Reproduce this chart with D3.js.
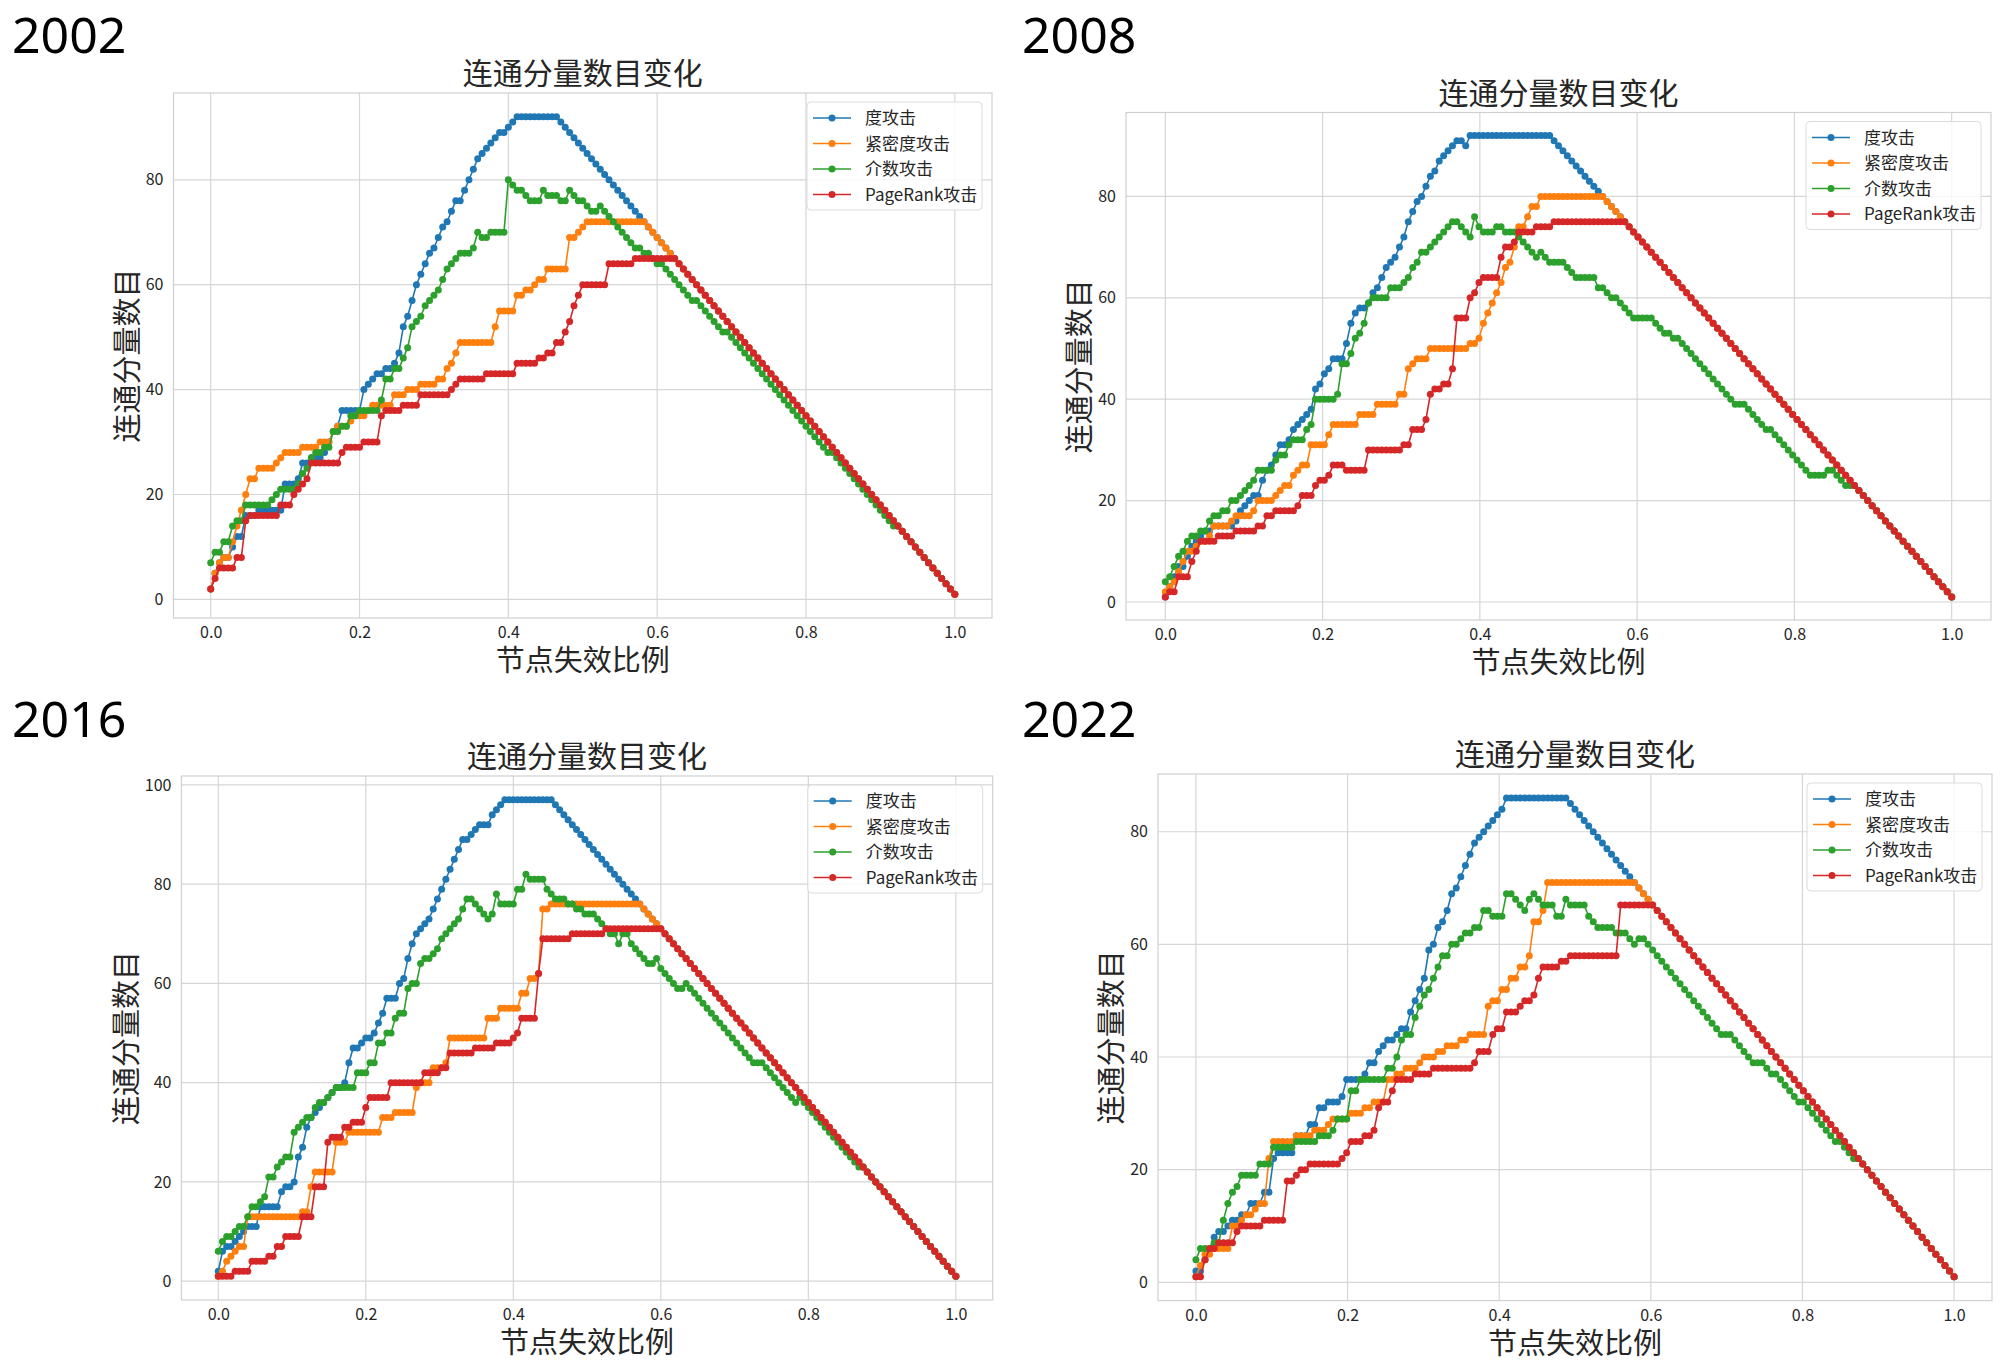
<!DOCTYPE html>
<html>
<head>
<meta charset="utf-8">
<script src="https://cdn.jsdelivr.net/npm/d3@7"></script>
<style>
  body { margin: 0; background: #fff; }
</style>
</head>
<body>
<svg id="chart" width="2000" height="1365"></svg>
<script>
// Legend names and colours
const seriesNames = ["度攻击", "紧密度攻击", "介数攻击", "PageRank攻击"];
const seriesColors = ["#1f77b4", "#ff7f0e", "#2ca02c", "#d62728"];
const years = ["2002", "2008", "2016", "2022"];
const xTicks = [0, 0.2, 0.4, 0.6, 0.8, 1.0];
const yTicks2002 = [0, 20, 40, 60, 80];
const yTicks2008 = [0, 20, 40, 60, 80];
const yTicks2016 = [0, 20, 40, 60, 80, 100];
const yTicks2022 = [0, 20, 40, 60, 80];

// 2002: components after removing i of 170 nodes
const deg2002 = [2,5,7,8,8,10,12,12,16,16,16,17,17,17,17,17,17,22,22,22,23,26,26,27,27,27,28,30,32,33,
  36,36,36,36,36,40,41,42,43,43,44,44,45,47,52,54,57,60,62,64,66,67,69,71,72,74,76,76,78,80,
  82,84,85,86,87,88,89,89,90,91,92,92,92,92,92,92,92,92,92,92,91,90,89,88,87,86,85,84,83,82,
  81,80,79,78,77,76,75,74,73,72,71,70,69,68,67,66,65,64,63,62,61,60,59,58,57,56,55,54,53,52,
  51,50,49,48,47,46,45,44,43,42,41,40,39,38,37,36,35,34,33,32,31,30,29,28,27,26,25,24,23,22,
  21,20,19,18,17,16,15,14,13,12,11,10,9,8,7,6,5,4,3,2,1];
const clo2002 = [2,5,7,8,8,11,14,17,20,23,23,25,25,25,25,26,27,28,28,28,28,29,29,29,29,30,30,30,32,33,
  33,33,34,35,35,35,36,37,37,37,37,37,39,39,39,40,40,40,41,41,41,41,42,42,44,45,47,49,49,49,
  49,49,49,49,49,52,55,55,55,55,58,58,59,59,60,61,61,63,63,63,63,63,69,69,70,71,72,72,72,72,
  72,72,72,72,72,72,72,72,72,72,71,70,69,68,67,66,65,64,63,62,61,60,59,58,57,56,55,54,53,52,
  51,50,49,48,47,46,45,44,43,42,41,40,39,38,37,36,35,34,33,32,31,30,29,28,27,26,25,24,23,22,
  21,20,19,18,17,16,15,14,13,12,11,10,9,8,7,6,5,4,3,2,1];
const bet2002 = [7,9,9,11,11,14,15,15,18,18,18,18,18,18,19,20,21,21,21,21,22,24,25,27,28,28,29,29,32,32,
  33,33,35,35,36,36,36,36,36,38,42,42,44,44,46,48,52,53,54,56,57,58,59,61,63,64,65,66,66,66,
  67,70,69,69,70,70,70,70,80,79,78,78,77,76,76,76,78,77,77,77,76,76,78,77,76,76,75,74,74,75,
  74,73,72,71,70,69,68,67,67,66,66,65,64,64,63,62,61,60,59,58,57,57,56,55,54,53,52,51,51,50,
  49,48,47,46,45,44,43,42,41,40,39,38,37,36,35,34,33,32,31,30,29,28,28,27,26,25,24,23,22,21,
  20,19,18,17,16,15,14,14,13,12,11,10,9,8,7,6,5,4,3,2,1];
const pr2002 = [2,4,6,6,6,6,8,8,15,16,16,16,16,16,16,16,18,18,18,20,21,22,23,26,26,26,26,26,26,26,
  28,29,29,29,29,30,30,30,30,35,36,36,36,36,37,37,37,37,39,39,39,39,39,39,39,40,41,42,42,42,
  42,42,42,43,43,43,43,43,43,43,45,45,45,45,45,46,46,47,47,49,49,51,53,56,58,60,60,60,60,60,
  60,64,64,64,64,64,64,65,65,65,65,65,65,65,65,65,65,64,63,62,61,60,59,58,57,56,55,54,53,52,
  51,50,49,48,47,46,45,44,43,42,41,40,39,38,37,36,35,34,33,32,31,30,29,28,27,26,25,24,23,22,
  21,20,19,18,17,16,15,14,13,12,11,10,9,8,7,6,5,4,3,2,1];

// 2008: 178 nodes
const deg2008 = [1,3,5,7,7,9,11,12,13,14,14,15,15,15,15,15,16,18,19,20,21,21,24,26,27,29,31,31,32,34,
  35,36,37,38,42,43,45,46,48,48,48,51,55,57,58,58,59,61,62,64,66,67,68,70,72,75,77,79,80,82,
  84,85,87,88,89,90,91,91,90,92,92,92,92,92,92,92,92,92,92,92,92,92,92,92,92,92,92,92,91,90,
  89,88,87,86,85,84,83,82,81,80,79,78,77,76,75,74,73,72,71,70,69,68,67,66,65,64,63,62,61,60,
  59,58,57,56,55,54,53,52,51,50,49,48,47,46,45,44,43,42,41,40,39,38,37,36,35,34,33,32,31,30,
  29,28,27,26,25,24,23,22,21,20,19,18,17,16,15,14,13,12,11,10,9,8,7,6,5,4,3,2,1];
const clo2008 = [2,3,4,6,8,10,10,11,12,12,13,15,15,15,15,16,17,17,17,17,18,20,20,20,20,21,22,23,23,25,
  26,27,27,31,31,31,31,33,35,35,35,35,35,35,37,37,37,37,39,39,39,39,39,41,41,46,47,48,48,48,
  50,50,50,50,50,50,50,50,50,51,51,52,55,57,59,61,63,66,67,70,74,74,76,78,78,80,80,80,80,80,
  80,80,80,80,80,80,80,80,80,80,79,78,77,76,75,74,73,72,71,70,69,68,67,66,65,64,63,62,61,60,
  59,58,57,56,55,54,53,52,51,50,49,48,47,46,45,44,43,42,41,40,39,38,37,36,35,34,33,32,31,30,
  29,28,27,26,25,24,23,22,21,20,19,18,17,16,15,14,13,12,11,10,9,8,7,6,5,4,3,2,1];
const bet2008 = [4,5,7,9,10,12,13,13,14,14,16,17,17,18,18,20,20,21,22,23,24,26,26,26,26,28,29,29,31,32,
  32,32,34,35,40,40,40,40,40,41,47,47,49,52,53,55,59,60,60,60,60,62,62,62,63,64,66,67,69,69,
  70,71,72,73,74,75,75,74,73,72,76,74,73,73,73,74,74,73,73,73,72,71,70,69,68,69,68,67,67,67,
  67,66,65,64,64,64,64,64,62,62,61,60,60,59,58,57,56,56,56,56,56,55,54,53,53,52,52,51,50,49,
  48,47,46,45,44,43,42,41,40,39,39,39,38,37,36,35,34,34,33,32,31,30,29,28,27,26,25,25,25,25,
  26,26,25,24,23,23,23,22,21,20,19,18,17,16,15,14,13,12,11,10,9,8,7,6,5,4,3,2,1];
const pr2008 = [1,2,2,5,5,5,8,10,12,12,12,12,13,13,13,13,14,14,14,14,14,15,15,17,17,18,18,18,18,18,
  19,21,21,21,23,24,24,25,27,27,27,26,26,26,26,26,30,30,30,30,30,30,30,30,31,31,34,34,34,36,
  41,42,42,43,43,46,56,56,56,60,61,63,64,64,64,64,68,70,70,71,73,73,73,73,74,74,74,74,75,75,
  75,75,75,75,75,75,75,75,75,75,75,75,75,75,75,74,73,72,71,70,69,68,67,66,65,64,63,62,61,60,
  59,58,57,56,55,54,53,52,51,50,49,48,47,46,45,44,43,42,41,40,39,38,37,36,35,34,33,32,31,30,
  29,28,27,26,25,24,23,22,21,20,19,18,17,16,15,14,13,12,11,10,9,8,7,6,5,4,3,2,1];

// 2016: 175 nodes
const deg2016 = [2,6,7,7,8,9,10,11,11,11,15,15,15,15,15,18,19,19,20,25,27,31,33,34,35,36,37,38,39,39,
  40,44,47,47,48,49,49,50,52,54,57,57,57,60,61,65,68,70,71,72,73,75,77,79,81,83,85,87,89,89,
  90,91,92,92,92,94,95,96,97,97,97,97,97,97,97,97,97,97,97,97,96,95,94,93,92,91,90,89,88,87,
  86,85,84,83,82,81,80,79,78,77,76,75,74,73,72,71,70,69,68,67,66,65,64,63,62,61,60,59,58,57,
  56,55,54,53,52,51,50,49,48,47,46,45,44,43,42,41,40,39,38,37,36,35,34,33,32,31,30,29,28,27,
  26,25,24,23,22,21,20,19,18,17,16,15,14,13,12,11,10,9,8,7,6,5,4,3,2,1];
const clo2016 = [1,2,4,5,6,7,7,13,13,13,13,13,13,13,13,13,13,13,13,13,14,14,19,22,22,22,22,22,28,28,
  28,30,30,30,30,30,30,30,30,33,33,33,34,34,34,34,34,39,40,40,40,43,43,43,44,49,49,49,49,49,
  49,49,49,49,53,53,53,55,55,55,55,55,58,58,61,61,62,75,75,76,76,76,76,76,76,76,76,76,76,76,
  76,76,76,76,76,76,76,76,76,76,76,75,74,73,72,71,70,69,68,67,66,65,64,63,62,61,60,59,58,57,
  56,55,54,53,52,51,50,49,48,47,46,45,44,43,42,41,40,39,38,37,36,35,34,33,32,31,30,29,28,27,
  26,25,24,23,22,21,20,19,18,17,16,15,14,13,12,11,10,9,8,7,6,5,4,3,2,1];
const bet2016 = [6,8,9,9,10,11,11,13,15,15,16,17,21,21,23,24,25,25,30,31,32,33,33,35,36,36,37,38,39,39,
  39,39,39,42,42,42,44,44,48,48,50,50,53,54,54,59,60,60,64,65,65,66,67,69,70,71,72,73,75,77,
  77,76,75,74,73,74,78,76,76,76,76,79,79,82,81,81,81,81,79,78,77,77,77,76,76,75,75,74,74,74,
  73,72,71,70,70,68,70,70,68,67,66,65,64,64,65,63,62,61,60,59,59,60,59,58,57,56,55,54,53,52,
  51,50,49,48,47,46,45,44,44,44,43,42,41,40,39,38,37,36,37,36,35,34,33,32,31,30,29,28,27,26,
  25,24,23,23,22,21,20,19,18,17,16,15,14,13,12,11,10,9,8,7,6,5,4,3,2,1];
const pr2016 = [1,1,1,1,2,2,2,2,4,4,4,4,5,5,7,7,9,9,9,9,13,13,13,19,19,19,28,29,29,29,
  31,31,32,32,32,35,37,37,37,37,37,40,40,40,40,40,40,40,40,42,42,42,42,43,43,46,46,46,46,46,
  46,47,47,47,47,47,48,48,48,48,49,50,53,53,53,53,62,69,69,69,69,69,69,69,70,70,70,70,70,70,
  70,70,71,71,71,71,71,71,71,71,71,71,71,71,71,71,70,69,68,67,66,65,64,63,62,61,60,59,58,57,
  56,55,54,53,52,51,50,49,48,47,46,45,44,43,42,41,40,39,38,37,36,35,34,33,32,31,30,29,28,27,
  26,25,24,23,22,21,20,19,18,17,16,15,14,13,12,11,10,9,8,7,6,5,4,3,2,1];

// 2022: 166 nodes
const deg2022 = [2,2,4,6,8,9,9,10,11,11,12,12,14,14,14,16,16,22,23,23,23,23,26,26,26,28,28,31,31,32,
  32,32,33,36,36,36,36,37,39,39,41,42,43,43,44,45,45,48,50,52,54,59,60,63,64,66,69,70,72,74,
  76,78,79,80,81,82,83,84,86,86,86,86,86,86,86,86,86,86,86,86,86,86,85,84,83,82,81,80,79,78,
  77,76,75,74,73,72,71,70,69,68,67,66,65,64,63,62,61,60,59,58,57,56,55,54,53,52,51,50,49,48,
  47,46,45,44,43,42,41,40,39,38,37,36,35,34,33,32,31,30,29,28,27,26,25,24,23,22,21,20,19,18,
  17,16,15,14,13,12,11,10,9,8,7,6,5,4,3,2,1];
const clo2022 = [1,3,5,5,6,6,6,6,10,10,11,12,12,13,14,14,22,25,25,25,25,25,26,26,26,26,27,27,27,28,
  29,29,29,29,30,30,30,31,31,32,32,32,36,36,37,37,38,38,38,39,40,40,40,41,41,42,42,42,43,43,
  44,44,44,44,49,50,50,52,52,54,54,56,56,58,64,64,66,71,71,71,71,71,71,71,71,71,71,71,71,71,
  71,71,71,71,71,71,71,70,69,68,67,66,65,64,63,62,61,60,59,58,57,56,55,54,53,52,51,50,49,48,
  47,46,45,44,43,42,41,40,39,38,37,36,35,34,33,32,31,30,29,28,27,26,25,24,23,22,21,20,19,18,
  17,16,15,14,13,12,11,10,9,8,7,6,5,4,3,2,1];
const bet2022 = [4,6,6,6,7,7,11,14,16,17,19,19,19,19,21,21,21,24,24,24,24,24,25,25,25,25,25,26,26,26,
  27,29,29,29,34,34,36,36,36,36,36,36,38,38,40,43,44,44,47,49,51,52,54,56,58,58,60,60,61,62,
  62,63,63,66,66,65,65,65,69,69,68,67,66,68,69,68,67,67,67,65,65,68,67,67,67,67,65,64,63,63,
  63,63,62,62,62,61,60,61,61,60,59,58,57,56,55,54,53,52,51,50,49,48,47,46,45,44,44,44,43,42,
  41,40,39,39,39,38,37,37,36,35,34,33,32,32,31,30,29,28,27,26,25,25,24,23,22,22,21,20,19,18,
  17,16,15,14,13,12,11,10,9,8,7,6,5,4,3,2,1];
const pr2022 = [1,1,4,6,6,7,7,7,7,9,10,10,10,10,10,11,11,11,11,11,18,18,19,20,20,21,21,21,21,21,
  21,21,22,23,25,25,25,26,26,27,31,32,32,34,36,36,36,36,37,37,37,37,38,38,38,38,38,38,38,38,
  38,39,41,41,41,44,45,45,48,48,48,49,50,50,51,54,56,56,56,56,57,57,58,58,58,58,58,58,58,58,
  58,58,58,67,67,67,67,67,67,67,67,66,65,64,63,62,61,60,59,58,57,56,55,54,53,52,51,50,49,48,
  47,46,45,44,43,42,41,40,39,38,37,36,35,34,33,32,31,30,29,28,27,26,25,24,23,22,21,20,19,18,
  17,16,15,14,13,12,11,10,9,8,7,6,5,4,3,2,1];

// Panel boxes (axes area in pixels) and year label positions
const panels = [
  { year: years[0], series: [deg2002, clo2002, bet2002, pr2002], yTicks: yTicks2002,
    left: 173.5, right: 992, top: 93, bottom: 618, yearX: 12, yearY: 53 },
  { year: years[1], series: [deg2008, clo2008, bet2008, pr2008], yTicks: yTicks2008,
    left: 1126, right: 1991, top: 112.5, bottom: 620, yearX: 1022, yearY: 53 },
  { year: years[2], series: [deg2016, clo2016, bet2016, pr2016], yTicks: yTicks2016,
    left: 181.4, right: 992.7, top: 776, bottom: 1300, yearX: 12, yearY: 737 },
  { year: years[3], series: [deg2022, clo2022, bet2022, pr2022], yTicks: yTicks2022,
    left: 1158, right: 1992, top: 774, bottom: 1300.6, yearX: 1022, yearY: 737 }
];

const cjk = "'Noto Sans CJK SC', 'Noto Sans', sans-serif";
const svg = d3.select("#chart");
svg.append("rect").attr("width", 2000).attr("height", 1365).attr("fill", "#fff");

panels.forEach(drawPanel);

function drawPanel(p) {
    const g = svg.append("g");
    const all = p.series.flat();
    const yMin = d3.min(all), yMax = d3.max(all);
    const pad = (yMax - yMin) * 0.05;

    const x = d3.scaleLinear().domain([-0.05, 1.05]).range([p.left, p.right]);
    const y = d3.scaleLinear().domain([yMin - pad, yMax + pad]).range([p.bottom, p.top]);

    // grid
    g.selectAll(".vg").data(xTicks).enter().append("line")
        .attr("x1", d => x(d)).attr("x2", d => x(d))
        .attr("y1", p.top).attr("y2", p.bottom)
        .attr("stroke", "#d6d6d6").attr("stroke-width", 1.2);
    g.selectAll(".hg").data(p.yTicks).enter().append("line")
        .attr("x1", p.left).attr("x2", p.right)
        .attr("y1", d => y(d)).attr("y2", d => y(d))
        .attr("stroke", "#d6d6d6").attr("stroke-width", 1.2);

    // frame
    g.append("rect").attr("x", p.left).attr("y", p.top)
        .attr("width", p.right - p.left).attr("height", p.bottom - p.top)
        .attr("fill", "none").attr("stroke", "#d0d0d0").attr("stroke-width", 1.2);

    // axes
    const xAxis = g.append("g").attr("transform", `translate(0,${p.bottom})`)
        .call(d3.axisBottom(x).tickValues(xTicks).tickSize(0).tickPadding(9).tickFormat(d3.format(".1f")));
    xAxis.select(".domain").remove();
    xAxis.attr("font-family", cjk).attr("font-size", 16).style("color", "#262626");

    const yAxis = g.append("g").attr("transform", `translate(${p.left},0)`)
        .call(d3.axisLeft(y).tickValues(p.yTicks).tickSize(0).tickPadding(10));
    yAxis.select(".domain").remove();
    yAxis.attr("font-family", cjk).attr("font-size", 16).style("color", "#262626");

    let tickW = 0;
    yAxis.selectAll("text").each(function () { tickW = Math.max(tickW, this.getComputedTextLength()); });

    // series: blue, orange, green, red (red on top)
    p.series.forEach((vals, k) => {
        const n = vals.length - 1;
        const pts = vals.map((v, i) => ({ x: i / n, y: v }));
        const line = d3.line().x(d => x(d.x)).y(d => y(d.y));
        g.append("path").datum(pts)
            .attr("fill", "none").attr("stroke", seriesColors[k]).attr("stroke-width", 1.6)
            .attr("d", line);
        g.append("g").selectAll("circle").data(pts).enter().append("circle")
            .attr("cx", d => x(d.x)).attr("cy", d => y(d.y))
            .attr("r", 3.5).attr("fill", seriesColors[k]);
    });

    const cx = (p.left + p.right) / 2, cy = (p.top + p.bottom) / 2;

    // title and axis labels
    g.append("text").attr("x", cx).attr("y", p.top - 9).attr("text-anchor", "middle")
        .attr("font-family", cjk).attr("font-size", 30).attr("fill", "#262626").text("连通分量数目变化");
    g.append("text").attr("x", cx).attr("y", p.bottom + 53).attr("text-anchor", "middle")
        .attr("font-family", cjk).attr("font-size", 29).attr("fill", "#262626").text("节点失效比例");
    const ylx = p.left - 10 - tickW - 21;
    g.append("text").attr("transform", `translate(${ylx},${cy}) rotate(-90)`)
        .attr("text-anchor", "middle").attr("dominant-baseline", "central")
        .attr("font-family", cjk).attr("font-size", 29).attr("fill", "#262626").text("连通分量数目");

    // legend
    const lw = 175, lh = 108;
    const lx = p.right - 10 - lw, ly = p.top + 9;
    const leg = g.append("g").attr("transform", `translate(${lx},${ly})`);
    leg.append("rect").attr("width", lw).attr("height", lh).attr("rx", 4)
        .attr("fill", "#fff").attr("fill-opacity", 0.8)
        .attr("stroke", "#dcdcdc").attr("stroke-width", 1);
    seriesNames.forEach((name, k) => {
        const ey = 16 + k * 25.5;
        leg.append("line").attr("x1", 6).attr("x2", 44).attr("y1", ey).attr("y2", ey)
            .attr("stroke", seriesColors[k]).attr("stroke-width", 1.6);
        leg.append("circle").attr("cx", 25).attr("cy", ey).attr("r", 3.5).attr("fill", seriesColors[k]);
        leg.append("text").attr("x", 58).attr("y", ey + 6)
            .attr("font-family", cjk).attr("font-size", 17).attr("fill", "#262626").text(name);
    });

    // year label
    svg.append("text").attr("x", p.yearX).attr("y", p.yearY)
        .attr("font-family", "'Noto Sans', 'Open Sans', sans-serif").attr("font-size", 50)
        .attr("fill", "#000").text(p.year);
}
</script>
</body>
</html>
